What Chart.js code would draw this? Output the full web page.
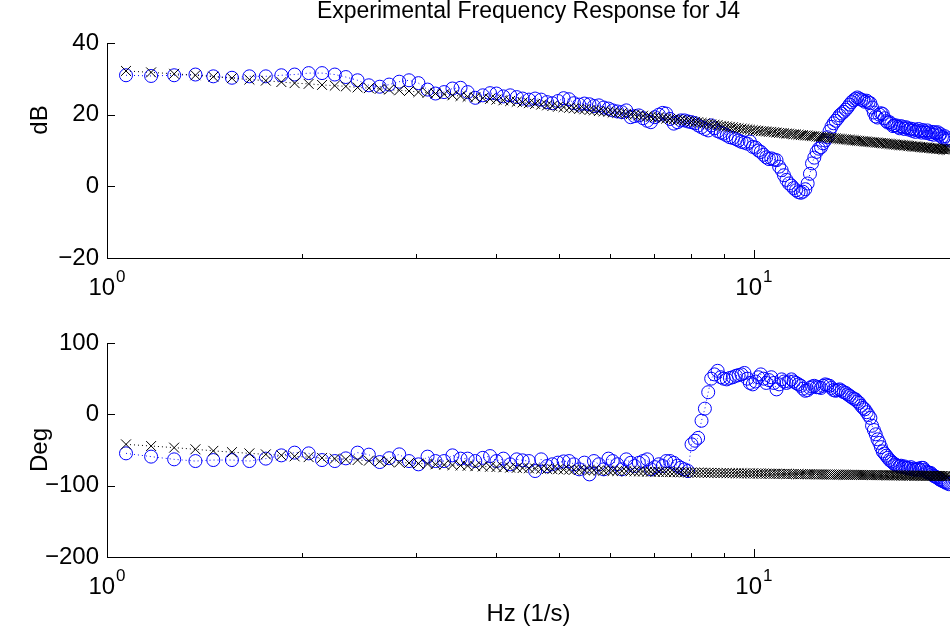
<!DOCTYPE html>
<html>
<head>
<meta charset="utf-8">
<script src="https://cdn.jsdelivr.net/npm/chart.js@4.4.1/dist/chart.umd.min.js"></script>
<style>
  html, body { margin: 0; padding: 0; background: #fff; }
  #wrap { position: relative; width: 950px; height: 631px; }
  canvas { position: absolute; left: 0; }
  #magChart { top: 0; }
  #phaseChart { top: 300px; }
</style>
</head>
<body>
<div id="wrap">
  <canvas id="magChart" width="950" height="300"></canvas>
  <canvas id="phaseChart" width="950" height="331"></canvas>
</div>
<script>
// frequency points (Hz)
const freqHz = [
  1.07,1.17,1.27,1.37,1.46,1.56,1.66,1.76,1.86,1.95,
  2.05,2.15,2.25,2.34,2.44,2.54,2.64,2.73,2.83,2.93,
  3.03,3.13,3.22,3.32,3.42,3.52,3.61,3.71,3.81,3.91,
  4.00,4.10,4.20,4.30,4.39,4.49,4.59,4.69,4.79,4.88,
  4.98,5.08,5.18,5.27,5.37,5.47,5.57,5.66,5.76,5.86,
  5.96,6.05,6.15,6.25,6.35,6.45,6.54,6.64,6.74,6.84,
  6.93,7.03,7.13,7.23,7.32,7.42,7.52,7.62,7.71,7.81,
  7.91,8.01,8.11,8.20,8.30,8.40,8.50,8.59,8.69,8.79,
  8.89,8.98,9.08,9.18,9.28,9.38,9.47,9.57,9.67,9.77,
  9.86,9.96,10.06,10.16,10.25,10.35,10.45,10.55,10.64,10.74,
  10.84,10.94,11.04,11.13,11.23,11.33,11.43,11.52,11.62,11.72,
  11.82,11.91,12.01,12.11,12.21,12.30,12.40,12.50,12.60,12.70,
  12.79,12.89,12.99,13.09,13.18,13.28,13.38,13.48,13.57,13.67,
  13.77,13.87,13.96,14.06,14.16,14.26,14.36,14.45,14.55,14.65,
  14.75,14.84,14.94,15.04,15.14,15.23,15.33,15.43,15.53,15.63,
  15.72,15.82,15.92,16.02,16.11,16.21,16.31,16.41,16.50,16.60,
  16.70,16.80,16.89,16.99,17.09,17.19,17.29,17.38,17.48,17.58,
  17.68,17.77,17.87,17.97,18.07,18.16,18.26,18.36,18.46,18.55,
  18.65,18.75,18.85,18.95,19.04,19.14,19.24,19.34,19.43,19.53,
  19.63,19.73,19.82,19.92,20.02
];

// model magnitude (dB), black x
const magModel = [
  32.2,31.8,31.4,31.0,30.6,30.2,29.8,29.5,29.1,28.8,
  28.6,28.3,28.1,27.9,27.6,27.4,27.2,27.0,26.8,26.6,
  26.3,26.1,25.9,25.7,25.4,25.2,25.0,24.8,24.6,24.4,
  24.2,24.0,23.8,23.6,23.4,23.2,23.0,22.8,22.6,22.4,
  22.2,22.1,21.9,21.8,21.6,21.5,21.3,21.2,21.0,20.9,
  20.8,20.6,20.5,20.4,20.2,20.1,20.0,19.8,19.7,19.5,
  19.4,19.3,19.2,19.1,18.9,18.8,18.7,18.6,18.5,18.4,
  18.3,18.1,18.0,17.9,17.7,17.6,17.5,17.3,17.2,17.1,
  16.9,16.8,16.7,16.6,16.5,16.3,16.2,16.1,16.0,15.9,
  15.8,15.7,15.6,15.5,15.4,15.4,15.3,15.2,15.2,15.1,
  15.0,14.9,14.9,14.8,14.7,14.7,14.6,14.5,14.5,14.4,
  14.3,14.3,14.2,14.2,14.1,14.0,14.0,13.9,13.8,13.8,
  13.7,13.7,13.6,13.5,13.5,13.4,13.4,13.3,13.2,13.2,
  13.1,13.1,13.0,13.0,12.9,12.9,12.8,12.7,12.7,12.6,
  12.6,12.5,12.5,12.4,12.4,12.3,12.3,12.2,12.2,12.1,
  12.1,12.0,12.0,11.9,11.9,11.8,11.8,11.7,11.7,11.6,
  11.6,11.5,11.5,11.5,11.4,11.4,11.3,11.3,11.2,11.2,
  11.1,11.1,11.1,11.0,11.0,10.9,10.9,10.8,10.8,10.8,
  10.7,10.7,10.6,10.6,10.6,10.5,10.5,10.4,10.4,10.4,
  10.3,10.3,10.3,10.2,10.2
];

// measured magnitude (dB), blue o
const magMeas = [
  31.0,30.8,31.0,31.2,30.7,30.3,30.7,30.7,31.0,31.2,
  31.6,31.6,31.2,30.5,29.6,28.2,27.8,28.4,29.2,29.6,
  28.8,27.0,25.9,26.3,27.3,27.5,26.3,24.7,25.4,26.0,
  25.9,25.1,25.4,24.9,24.5,24.2,24.5,24.2,23.5,23.2,
  23.8,24.6,24.3,23.2,22.8,23.1,22.9,22.4,22.6,22.0,
  21.7,21.2,20.9,20.7,21.2,19.3,19.6,19.8,19.0,18.3,
  17.9,19.3,20.0,20.5,20.3,18.8,17.5,17.9,18.4,18.4,
  18.1,17.9,17.6,17.0,16.5,16.0,15.6,17.0,16.2,15.4,
  15.0,14.7,14.2,13.7,13.5,13.2,12.8,12.4,12.2,11.9,
  12.5,11.0,10.8,10.0,9.6,8.8,8.1,7.6,7.8,7.5,
  7.3,5.5,4.5,3.1,1.8,0.8,0.2,-0.5,-1.1,-1.6,
  -1.8,-1.5,-0.8,0.8,3.5,6.4,8.0,9.6,10.5,10.9,
  12.0,12.8,13.7,15.4,16.6,17.6,18.3,19.0,19.8,20.3,
  20.8,21.4,22.0,22.8,23.5,24.0,24.4,24.8,24.5,24.2,
  24.0,23.6,23.9,23.4,23.2,22.0,20.6,19.5,19.2,20.0,
  20.4,20.2,19.0,18.2,17.8,17.9,17.4,16.8,17.0,17.0,
  16.6,16.2,16.8,16.5,16.0,16.5,16.2,15.8,16.1,15.5,
  15.9,15.2,15.6,16.0,15.4,15.0,15.7,15.3,14.9,15.6,
  15.0,14.6,15.2,14.4,15.1,14.8,15.1,14.2,14.6,13.8,
  13.4,14.0,13.2,12.8,13.4
];

// model phase (deg), black x
const phaseModel = [
  -42.1,-44.4,-46.7,-49.0,-51.2,-53.0,-54.7,-56.1,-57.5,-58.9,
  -60.0,-61.1,-62.1,-63.1,-64.1,-65.0,-65.9,-66.7,-67.5,-68.2,
  -68.9,-69.5,-70.1,-70.7,-71.2,-71.7,-72.2,-72.7,-73.1,-73.5,
  -73.9,-74.3,-74.7,-75.0,-75.3,-75.6,-75.9,-76.2,-76.5,-76.8,
  -77.0,-77.3,-77.5,-77.7,-77.9,-78.1,-78.3,-78.5,-78.7,-78.9,
  -79.0,-79.2,-79.4,-79.5,-79.7,-79.8,-80.0,-80.1,-80.2,-80.4,
  -80.5,-80.6,-80.7,-80.8,-80.9,-81.0,-81.1,-81.2,-81.3,-81.4,
  -81.5,-81.6,-81.7,-81.8,-81.8,-81.9,-82.0,-82.1,-82.1,-82.2,
  -82.3,-82.3,-82.4,-82.5,-82.5,-82.6,-82.7,-82.7,-82.8,-82.8,
  -82.9,-82.9,-83.0,-83.0,-83.1,-83.1,-83.2,-83.2,-83.3,-83.3,
  -83.4,-83.4,-83.5,-83.5,-83.6,-83.6,-83.7,-83.7,-83.8,-83.8,
  -83.9,-83.9,-84.0,-84.0,-84.0,-84.1,-84.1,-84.2,-84.2,-84.2,
  -84.3,-84.3,-84.4,-84.4,-84.4,-84.5,-84.5,-84.6,-84.6,-84.6,
  -84.7,-84.7,-84.7,-84.8,-84.8,-84.8,-84.9,-84.9,-84.9,-85.0,
  -85.0,-85.0,-85.1,-85.1,-85.1,-85.2,-85.2,-85.2,-85.3,-85.3,
  -85.3,-85.4,-85.4,-85.4,-85.5,-85.5,-85.5,-85.5,-85.6,-85.6,
  -85.6,-85.7,-85.7,-85.7,-85.8,-85.8,-85.8,-85.8,-85.9,-85.9,
  -85.9,-86.0,-86.0,-86.0,-86.0,-86.1,-86.1,-86.1,-86.1,-86.2,
  -86.2,-86.2,-86.2,-86.3,-86.3,-86.3,-86.3,-86.4,-86.4,-86.4,
  -86.4,-86.5,-86.5,-86.5,-86.5
];

// measured phase (deg), blue o
const phaseMeas = [
  -54.7,-59.3,-63.1,-65.5,-64.1,-64.1,-65.5,-62.1,-57.5,-53.7,
  -54.7,-64.1,-65.5,-61.7,-53.7,-56.5,-66.9,-61.5,-56.1,-65.5,
  -70.1,-59.3,-65.5,-65.5,-57.5,-62.1,-62.1,-65.5,-61.0,-58.5,
  -65.5,-62.1,-70.1,-63.1,-64.5,-65.5,-79.5,-63.1,-72.5,-70.0,
  -67.7,-66.0,-65.5,-70.1,-77.1,-67.7,-84.2,-65.5,-70.0,-77.1,
  -62.1,-65.5,-70.0,-77.1,-63.1,-68.0,-72.5,-68.0,-65.5,-63.1,
  -77.1,-74.0,-70.0,-72.5,-65.5,-65.5,-68.0,-72.0,-74.8,-77.1,
  -79.5,-42.0,-37.0,-33.0,-9.0,8.0,31.0,50.0,56.0,61.0,
  52,50,49,51,52,54,55,56,58,50,
  44,42,46,52,56,50,44,48,52,44,
  35,42,49,46,44,46,49,46,44,42,
  40,36,33,34,37,39,40,38,38,37,
  40,42,41,40,37,34,33,34,35,33,
  31,30,28,26,24,22,21,18,16,12,
  9,7,3,-1,-5,-16,-22,-28,-35,-40,
  -46,-52,-55,-58,-61,-64,-66,-68,-70,-71,
  -72,-73,-72,-74,-73,-75,-75,-76,-74,-77,
  -76,-78,-77,-76,-78,-75,-75,-78,-80,-81,
  -82,-82,-84,-86,-87,-88,-89,-91,-92,-93,
  -94,-95,-96,-96,-98
];

const xMajorTicks = [1, 10];
const xMinorTicks = [2, 3, 4, 5, 6, 7, 8, 9];
const magTicks = [-20, 0, 20, 40];
const phaseTicks = [-200, -100, 0, 100];

const FONT = '"Liberation Sans", Arial, Helvetica, sans-serif';
const BLUE = '#0000ff';

// MATLAB-like inward ticks, 10^n labels and y labels
const matlabAxes = {
  id: 'matlabAxes',
  afterDraw(chart, args, opts) {
    const ctx = chart.ctx;
    const a = chart.chartArea;
    const xs = chart.scales.x, ys = chart.scales.y;
    ctx.save();
    ctx.strokeStyle = '#000';
    ctx.lineWidth = 1;
    ctx.beginPath();
    xMajorTicks.concat(xMinorTicks).forEach(v => {
      const px = Math.round(xs.getPixelForValue(v)) + 0.5;
      const len = xMajorTicks.includes(v) ? 8 : 4;
      ctx.moveTo(px, a.bottom);
      ctx.lineTo(px, a.bottom - len);
    });
    ys.ticks.forEach(t => {
      const py = Math.round(ys.getPixelForValue(t.value)) + 0.5;
      ctx.moveTo(a.left, py);
      ctx.lineTo(a.left + 8, py);
    });
    ctx.stroke();

    ctx.fillStyle = '#000';
    ctx.textBaseline = 'alphabetic';
    ctx.textAlign = 'left';
    xMajorTicks.forEach(v => {
      const base = '10';
      const exp = String(Math.round(Math.log10(v)));
      ctx.font = '24px ' + FONT;
      const wb = ctx.measureText(base).width;
      ctx.font = '17px ' + FONT;
      const we = ctx.measureText(exp).width;
      const sx = xs.getPixelForValue(v) - (wb + we + 1) / 2;
      ctx.font = '24px ' + FONT;
      ctx.fillText(base, sx, a.bottom + 37);
      ctx.font = '17px ' + FONT;
      ctx.fillText(exp, sx + wb + 1, a.bottom + 24);
    });

    ctx.translate(opts.labelX, opts.labelY);
    ctx.rotate(-Math.PI / 2);
    ctx.textAlign = 'center';
    ctx.textBaseline = 'middle';
    ctx.font = '24px ' + FONT;
    ctx.fillText(opts.yLabel, 0, 0);
    ctx.restore();
  }
};

function toPoints(ys) {
  return freqHz.map((f, i) => ({ x: f, y: ys[i] }));
}

function makeDatasets(model, meas) {
  return [
    {
      label: 'model',
      data: toPoints(model),
      borderColor: '#000',
      borderWidth: 1,
      borderDash: [1, 3],
      pointStyle: 'crossRot',
      pointRadius: 7,
      pointBorderColor: '#000',
      pointBorderWidth: 1,
      fill: false
    },
    {
      label: 'measured',
      data: toPoints(meas),
      borderColor: BLUE,
      borderWidth: 1,
      borderDash: [1, 3],
      pointStyle: 'circle',
      pointRadius: 6.5,
      pointBorderColor: BLUE,
      pointBackgroundColor: 'rgba(0,0,0,0)',
      pointBorderWidth: 1,
      fill: false
    }
  ];
}

function makeOptions(cfg) {
  return {
    responsive: false,
    animation: false,
    devicePixelRatio: 1,
    events: [],
    layout: { autoPadding: false, padding: { top: cfg.padTop, left: 0, right: 0, bottom: 0 } },
    plugins: {
      legend: { display: false },
      tooltip: { enabled: false },
      title: cfg.title ? {
        display: true,
        fullSize: false,
        text: cfg.title,
        color: '#000',
        font: { family: FONT, size: 23, weight: 'normal', lineHeight: 1 },
        padding: { top: 0, bottom: 20 }
      } : { display: false },
      matlabAxes: { yLabel: cfg.yLabel, labelX: 40, labelY: cfg.labelY }
    },
    scales: {
      x: {
        type: 'logarithmic',
        min: 1,
        max: 20.1,
        grid: { display: false, drawTicks: false },
        border: { display: true, color: '#000', width: 1 },
        ticks: { display: false },
        title: cfg.xTitle ? {
          display: true,
          text: cfg.xTitle,
          color: '#000',
          font: { family: FONT, size: 24, lineHeight: 1 },
          padding: { top: 0, bottom: 5 }
        } : { display: false },
        afterFit: s => { s.height = cfg.xHeight; }
      },
      y: {
        min: cfg.yTicks[0],
        max: cfg.yTicks[cfg.yTicks.length - 1],
        grid: { display: false, drawTicks: false },
        border: { display: true, color: '#000', width: 1 },
        afterBuildTicks: s => { s.ticks = cfg.yTicks.map(v => ({ value: v })); },
        ticks: {
          color: '#000',
          padding: 8,
          font: { family: FONT, size: 24 },
          callback: v => String(v).replace('-', '\u2212')
        },
        afterFit: s => { s.width = 107; }
      }
    }
  };
}

new Chart(document.getElementById('magChart'), {
  type: 'line',
  data: { datasets: makeDatasets(magModel, magMeas) },
  options: makeOptions({
    title: 'Experimental Frequency Response for J4',
    padTop: 0,
    yLabel: 'dB',
    labelY: 120,
    yTicks: magTicks,
    xHeight: 42
  }),
  plugins: [matlabAxes]
});

new Chart(document.getElementById('phaseChart'), {
  type: 'line',
  data: { datasets: makeDatasets(phaseModel, phaseMeas) },
  options: makeOptions({
    padTop: 43,
    yLabel: 'Deg',
    labelY: 150,
    yTicks: phaseTicks,
    xHeight: 74,
    xTitle: 'Hz (1/s)'
  }),
  plugins: [matlabAxes]
});
</script>
</body>
</html>
